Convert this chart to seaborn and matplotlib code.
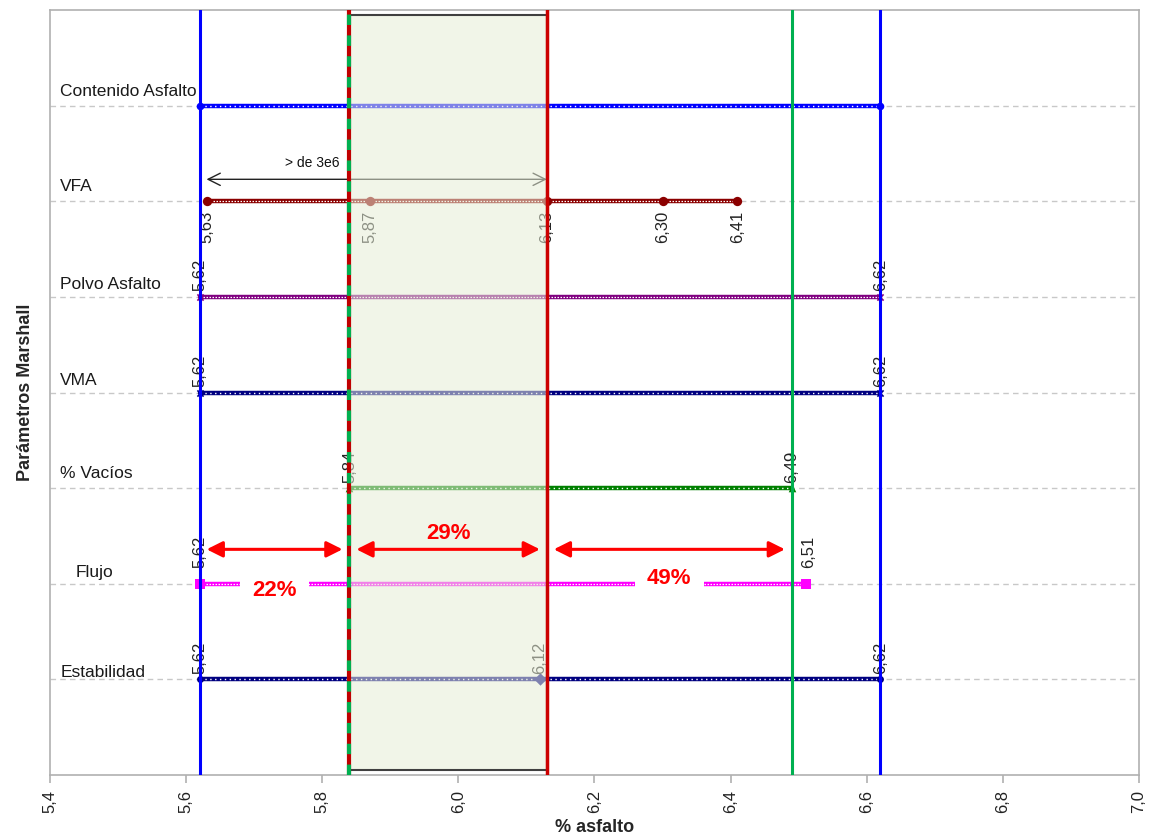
import matplotlib
matplotlib.use("Agg")
import matplotlib.pyplot as plt
import seaborn as sns
import pandas as pd

# ---------------- data ----------------
categories = ["Estabilidad", "Flujo", "% Vacíos", "VMA", "Polvo Asfalto", "VFA", "Contenido Asfalto"]
estabilidad = [5.62, 6.12, 6.62]
flujo = [5.62, 6.51]
vacios = [5.84, 6.49]
vma = [5.62, 6.62]
polvo = [5.62, 6.62]
vfa = [5.63, 5.87, 6.13, 6.30, 6.41]
contenido = [5.62, 6.62]

limits_blue = [5.62, 6.62]
limit_green = 6.49
optimo_low = 5.84
optimo_high = 6.13

pct_bounds = [5.62, 5.84, 6.13, 6.49]
pct_labels = ["22%", "29%", "49%"]
vfa_arrow_text = "> de 3e6"

xticks = [5.4, 5.6, 5.8, 6.0, 6.2, 6.4, 6.6, 6.8, 7.0]
xtick_labels = ["5,4", "5,6", "5,8", "6,0", "6,2", "6,4", "6,6", "6,8", "7,0"]

# ---------------- style ----------------
sns.set_theme(style="white")
plt.rcParams["font.family"] = ["Liberation Sans", "DejaVu Sans"]

fig = plt.figure(figsize=(11.51, 8.39), dpi=100)
ax = fig.add_axes([0.0434, 0.0763, 0.9462, 0.9117])

ypos = {c: i + 1 for i, c in enumerate(categories)}

series = {
    "Estabilidad": (estabilidad, "#000080", "dotted", "o"),
    "Flujo": (flujo, "#ff00ff", "wavy", "s"),
    "% Vacíos": (vacios, "#008000", "dotted", "^"),
    "VMA": (vma, "#000080", "dotted", "x"),
    "Polvo Asfalto": (polvo, "#800080", "wavy", "x"),
    "VFA": (vfa, "#8b0000", "wavy", "o"),
    "Contenido Asfalto": (contenido, "#0000ff", "dotted", "o"),
}
marker_sizes = {"s": 60, "o": 30, "^": 30, "x": 20}

for cat, (vals, color, kind, mk) in series.items():
    y = ypos[cat]
    df = pd.DataFrame({"x": vals, "y": [y] * len(vals)})
    sns.lineplot(data=df, x="x", y="y", ax=ax, color=color, lw=3.2, zorder=3,
                 estimator=None, sort=False)
    sns.lineplot(data=df, x="x", y="y", ax=ax, color="white",
                 lw=(1.0 if kind == "dotted" else 0.9), zorder=3.1,
                 estimator=None, sort=False)
    ax.lines[-1].set_dashes((1, 2.5) if kind == "dotted" else (1.2, 1.2))
    ms = marker_sizes[mk]
    if cat == "Estabilidad":
        for v, m in zip(vals, ["o", "D", "o"]):
            sns.scatterplot(x=[v], y=[y], ax=ax, color=color, marker=m,
                            s=(40 if m == "D" else 25), linewidth=0, zorder=3.5)
    elif cat == "VFA":
        sns.scatterplot(x=vals, y=[y] * len(vals), ax=ax, color=color, marker="o",
                        s=45, linewidth=0, zorder=3.5)
    elif mk == "x":
        sns.scatterplot(x=vals, y=[y] * len(vals), ax=ax, color=color, marker="x",
                        s=ms, linewidth=1.2, zorder=3.5)
    else:
        sns.scatterplot(x=vals, y=[y] * len(vals), ax=ax, color=color, marker=mk,
                        s=ms, linewidth=0, zorder=3.5)

    if cat == "Contenido Asfalto":
        continue
    for v in vals:
        lbl = f"{v:.2f}".replace(".", ",")
        if cat == "VFA":
            ax.annotate(lbl, (v, y), xytext=(0, -7), textcoords="offset points",
                        rotation=90, ha="center", va="top", fontsize=12,
                        color="#222222", zorder=3.6)
        else:
            dx, dy = 0, 4
            if cat == "Flujo":
                dy = 11
                if v == flujo[-1]:
                    dx = 2
            ax.annotate(lbl, (v, y), xytext=(dx, dy), textcoords="offset points",
                        rotation=90, ha="center", va="bottom", fontsize=12,
                        color="#222222", zorder=3.6)

# category names
label_dy = {"Estabilidad": 0.07, "Flujo": 0.12, "% Vacíos": 0.15, "VMA": 0.13,
            "Polvo Asfalto": 0.13, "VFA": 0.15, "Contenido Asfalto": 0.15}
label_x = {"Flujo": 5.437}
for cat in categories:
    ax.text(label_x.get(cat, 5.415), ypos[cat] + label_dy[cat], cat, fontsize=12.5,
            ha="left", va="center", color="#1a1a1a", zorder=4)

# optimum box (fades lines inside)
ax.axvspan(optimo_low, optimo_high, ymin=0.006, ymax=0.994, facecolor="#e6edd6",
           alpha=0.55, edgecolor="none", zorder=5)
ax.axvspan(optimo_low, optimo_high, ymin=0.006, ymax=0.994, facecolor="none",
           edgecolor="#404040", lw=1.5, zorder=5.1)

# limit lines
for xv in limits_blue:
    ax.axvline(xv, color="#0000ff", lw=2.2, zorder=6)
ax.axvline(limit_green, color="#00b050", lw=2.2, zorder=6)
ax.axvline(optimo_high, color="#cc0000", lw=2.5, zorder=6)
ax.axvline(optimo_low, color="#c00000", lw=3, zorder=6)
ax.axvline(optimo_low, color="#00b050", lw=3, zorder=6.1, dashes=(2.5, 2.5))

# VFA arrow
yv = ypos["VFA"]
for end in (vfa[0], optimo_high):
    ax.annotate("", xy=(end, yv + 0.23), xytext=(optimo_low, yv + 0.23),
                arrowprops=dict(arrowstyle="->", color="#222222", lw=1.0,
                                shrinkA=0, shrinkB=0, mutation_scale=22), zorder=4)
ax.text(5.786, yv + 0.40, vfa_arrow_text, fontsize=10, ha="center", va="center",
        color="#111111", zorder=4)

# percentage arrows
yf = ypos["Flujo"]
pct_y = [yf - 0.07, yf + 0.53, yf + 0.06]
for (a, b), lbl, ty in zip(zip(pct_bounds[:-1], pct_bounds[1:]), pct_labels, pct_y):
    ax.annotate("", xy=(a, yf + 0.36), xytext=(b, yf + 0.36),
                arrowprops=dict(arrowstyle="<|-|>", color="#ff0000", lw=2.2,
                                shrinkA=5, shrinkB=5, mutation_scale=24), zorder=7)
    ax.text((a + b) / 2, ty, lbl, fontsize=16, fontweight="bold", color="#ff0000",
            ha="center", va="center", zorder=7,
            bbox=dict(facecolor="white", edgecolor="none", pad=9) if lbl != "29%" else None)

# axes
ax.set_xlim(5.4, 7.0)
ax.set_ylim(0, 8)
ax.set_xticks(xticks)
ax.set_xticklabels(xtick_labels, rotation=90, fontsize=12, color="#222222")
ax.set_yticks([ypos[c] for c in categories])
ax.set_yticklabels([])
ax.yaxis.grid(True, linestyle=(0, (4, 3)), color="#c8c8c8", lw=1.0)
ax.xaxis.grid(False)
ax.tick_params(axis="x", bottom=True, length=6, width=1.2, color="#b0b0b0",
               direction="out", pad=5)
ax.tick_params(axis="y", length=0)
for sp in ax.spines.values():
    sp.set_color("#b0b0b0")
    sp.set_linewidth(1.2)
ax.set_xlabel("% asfalto", fontsize=13, fontweight="bold", labelpad=4)
ax.set_ylabel("Parámetros Marshall", fontsize=13, fontweight="bold", labelpad=8)

fig.savefig("out.png", dpi=100)
